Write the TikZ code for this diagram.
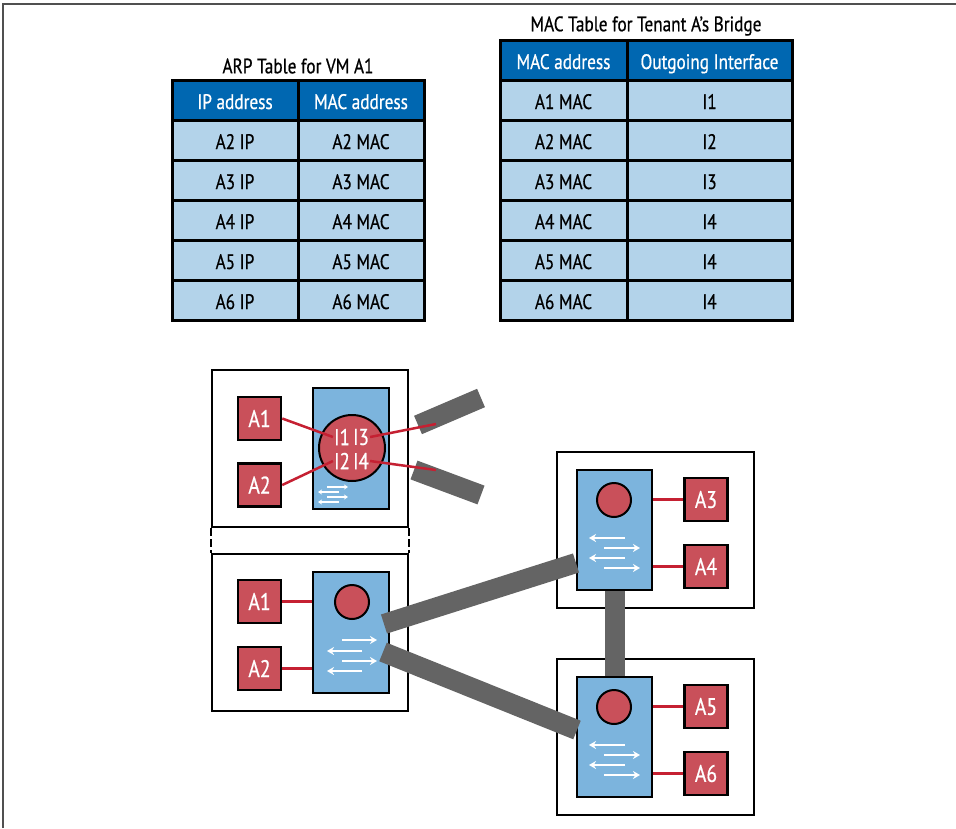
\documentclass[tikz,border=0pt]{standalone}
\usepackage{fontspec}
\setmainfont{PT Sans}[FakeStretch=0.82, FakeBold=0.6]
\usetikzlibrary{positioning,arrows.meta}

\definecolor{hdrblue}{RGB}{0,103,177}
\definecolor{cellblue}{RGB}{179,211,234}
\definecolor{swblue}{RGB}{124,180,221}
\definecolor{vmred}{RGB}{201,80,90}
\definecolor{linkred}{RGB}{197,32,50}
\definecolor{trunkgray}{RGB}{100,100,100}
\definecolor{framegray}{RGB}{80,80,80}

\begin{document}
\begin{tikzpicture}[
  x=1pt, y=-1pt,
  cell/.style={draw, line width=3pt, fill=cellblue, minimum height=40pt, inner sep=0pt, outer sep=0pt,
    text height=20pt, text depth=2pt, font=\fontsize{21}{24}\selectfont},
  head/.style={cell, fill=hdrblue, text=white},
  arpcol/.style={minimum width=126pt},
  maccol/.style={minimum width=127pt},
  ifcol/.style={minimum width=165pt},
  title/.style={font=\fontsize{21}{24}\selectfont},
  host/.style={draw, line width=2pt, fill=white, minimum width=196pt, minimum height=157pt, inner sep=0pt},
  switch/.style={draw, line width=2pt, fill=swblue, minimum width=76pt, minimum height=121pt, inner sep=0pt},
  vm/.style={draw, line width=2.5pt, fill=vmred, minimum size=43pt, inner sep=0pt, text=white,
    font=\fontsize{24}{26}\selectfont},
  bridge/.style={circle, draw, line width=2pt, fill=vmred, minimum size=34pt, inner sep=0pt},
  port/.style={text=white, inner sep=1pt, font=\fontsize{23}{25}\selectfont},
  vlink/.style={draw=linkred, line width=2.5pt},
  trunk/.style={draw=trunkgray, line width=20pt},
  flow/.style={draw=white, line width=2pt, -{Stealth[length=7pt,width=8pt]}},
  miniflow/.style={draw=white, line width=1.4pt, -{Stealth[length=4pt,width=5pt]}}
]
\useasboundingbox (0,0) rectangle (956,828);
\draw[framegray, line width=2pt] (3,828) -- (3,4) -- (956,4);

% ARP table
\node[head, arpcol] (ipH) at (235,100) {IP address};
\node[head, arpcol, right=0pt of ipH] (macH) {MAC address};
\node[cell, arpcol, below=0pt of ipH] (ip2) {A2 IP};
\node[cell, arpcol, below=0pt of ip2] (ip3) {A3 IP};
\node[cell, arpcol, below=0pt of ip3] (ip4) {A4 IP};
\node[cell, arpcol, below=0pt of ip4] (ip5) {A5 IP};
\node[cell, arpcol, below=0pt of ip5] (ip6) {A6 IP};
\node[cell, arpcol, right=0pt of ip2] (mac2) {A2 MAC};
\node[cell, arpcol, right=0pt of ip3] (mac3) {A3 MAC};
\node[cell, arpcol, right=0pt of ip4] (mac4) {A4 MAC};
\node[cell, arpcol, right=0pt of ip5] (mac5) {A5 MAC};
\node[cell, arpcol, right=0pt of ip6] (mac6) {A6 MAC};
\node[title] (arpT) at (298,66) {ARP Table for VM A1};

% MAC table
\node[head, maccol] (brH) at (563.5,60) {MAC address};
\node[head, ifcol, right=0pt of brH] (ifH) {Outgoing Interface};
\node[cell, maccol, below=0pt of brH] (br1) {A1 MAC};
\node[cell, maccol, below=0pt of br1] (br2) {A2 MAC};
\node[cell, maccol, below=0pt of br2] (br3) {A3 MAC};
\node[cell, maccol, below=0pt of br3] (br4) {A4 MAC};
\node[cell, maccol, below=0pt of br4] (br5) {A5 MAC};
\node[cell, maccol, below=0pt of br5] (br6) {A6 MAC};
\node[cell, ifcol, right=0pt of br1] (if1) {I1};
\node[cell, ifcol, right=0pt of br2] (if2) {I2};
\node[cell, ifcol, right=0pt of br3] (if3) {I3};
\node[cell, ifcol, right=0pt of br4] (if4) {I4};
\node[cell, ifcol, right=0pt of br5] (if5) {I4};
\node[cell, ifcol, right=0pt of br6] (if6) {I4};
\node[title] (macT) at (646,26) {MAC Table for Tenant A's Bridge};

% hosts
\node[host] (hostZ) at (310,448.5) {};
\node[host] (hostA) at (310,632) {};
\node[host, minimum width=197pt, minimum height=156pt] (hostB) at (655.5,530) {};
\node[host, minimum width=197pt, minimum height=156pt] (hostC) at (655.5,736.5) {};
\draw[line width=2pt, dash pattern=on 8pt off 3pt] (hostZ.south west) -- (hostA.north west);
\draw[line width=2pt, dash pattern=on 8pt off 3pt] (hostZ.south east) -- (hostA.north east);

% switches
\node[switch] (swZ) at (351,448.5) {};
\node[switch] (swA) at (351,632.5) {};
\node[switch, minimum width=75pt, minimum height=120pt] (swB) at (614.5,530) {};
\node[switch, minimum width=75pt, minimum height=120pt] (swC) at (614.5,737) {};

\node[bridge, minimum size=66pt] (brZ) at (352,448) {};
\node[bridge] (brA) at (352,602) {};
\node[bridge] (brB) at (614,500) {};
\node[bridge] (brC) at (614,707) {};

\draw[miniflow] (327,487) -- (348,487);
\draw[miniflow] (339,492) -- (318,492);
\draw[miniflow] (327,497) -- (348,497);
\draw[miniflow] (339,502) -- (318,502);

\draw[flow] (342,640) -- (377,640);
\draw[flow] (362,651) -- (327,651);
\draw[flow] (342,661) -- (377,661);
\draw[flow] (362,671) -- (327,671);

\draw[flow] (625,538) -- (589,538);
\draw[flow] (604,548) -- (640,548);
\draw[flow] (625,558) -- (589,558);
\draw[flow] (604,568) -- (640,568);

\draw[flow] (625,745) -- (589,745);
\draw[flow] (604,755) -- (640,755);
\draw[flow] (625,765) -- (589,765);
\draw[flow] (604,775) -- (640,775);

% trunks
\coordinate (tZa) at (418,425);
\coordinate (tZb) at (481,398);
\coordinate (tZc) at (414,470);
\coordinate (tZd) at (481,495);
\coordinate (tAB1) at (384,624);
\coordinate (tAB2) at (576,563);
\coordinate (tAC1) at (383,652);
\coordinate (tAC2) at (577,730);
\draw[trunk] (tZa) -- (tZb);
\draw[trunk] (tZc) -- (tZd);
\draw[trunk] (tAB1) -- (tAB2);
\draw[trunk] (tAC1) -- (tAC2);
\draw[trunk] (swB.south) -- (swC.north);

% VMs
\node[vm] (z1) at (259.5,418.5) {A1};
\node[vm] (z2) at (259.5,485) {A2};
\node[vm] (a1) at (259.5,601.5) {A1};
\node[vm] (a2) at (259.5,668.5) {A2};
\node[vm] (a3) at (706,499.5) {A3};
\node[vm] (a4) at (706,566.5) {A4};
\node[vm] (a5) at (706,706.5) {A5};
\node[vm] (a6) at (706,773.5) {A6};

% ports of the bridge
\node[port] (p1) at (342,437) {I1};
\node[port] (p3) at (361,437) {I3};
\node[port] (p2) at (342,461) {I2};
\node[port] (p4) at (361,461) {I4};
\coordinate (upl1) at (436,424);
\coordinate (upl2) at (436,470);

% links
\draw[vlink] (z1.east) -- (p1.west);
\draw[vlink] (z2.east) -- (p2.west);
\draw[vlink] (p3.east) -- (upl1);
\draw[vlink] (p4.east) -- (upl2);
\draw[vlink] (a1.east) -- (swA.west |- a1.east);
\draw[vlink] (a2.east) -- (swA.west |- a2.east);
\draw[vlink] (a3.west) -- (swB.east |- a3.west);
\draw[vlink] (a4.west) -- (swB.east |- a4.west);
\draw[vlink] (a5.west) -- (swC.east |- a5.west);
\draw[vlink] (a6.west) -- (swC.east |- a6.west);
\end{tikzpicture}
\end{document}
